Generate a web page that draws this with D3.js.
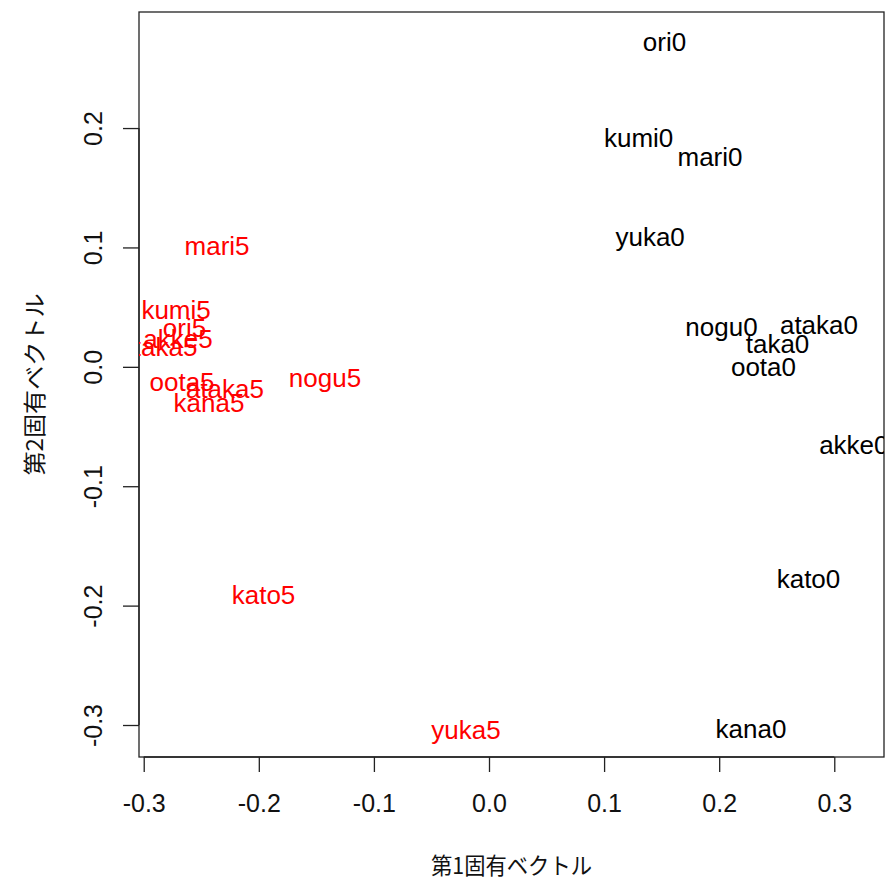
<!DOCTYPE html>
<html>
<head>
<meta charset="utf-8">
<script src="https://cdn.jsdelivr.net/npm/d3@7"></script>
<style>
  html, body { margin: 0; padding: 0; background: #fff; }
  svg { display: block; }
</style>
</head>
<body>
<svg id="chart" width="885" height="881"></svg>
<script>
// Data: first and second eigenvector scores
const labels0 = ["ori0","kumi0","mari0","yuka0","nogu0","ataka0","taka0","oota0","akke0","kato0","kana0"];
const x0 = [0.1525, 0.130, 0.192, 0.140, 0.202, 0.2867, 0.2507, 0.2385, 0.317, 0.2776, 0.2276];
const y0 = [0.272, 0.1916, 0.176, 0.1087, 0.0335, 0.0350, 0.0192, 0.0003, -0.0655, -0.177, -0.3033];

const labels5 = ["mari5","kumi5","ori5","akke5","taka5","oota5","ataka5","kana5","nogu5","kato5","yuka5"];
const x5 = [-0.2363, -0.2719, -0.2646, -0.2702, -0.2810, -0.2667, -0.2294, -0.2433, -0.1425, -0.1959, -0.0200];
const y5 = [0.1012, 0.0476, 0.0325, 0.0233, 0.0166, -0.0127, -0.0186, -0.0303, -0.0094, -0.1907, -0.304];

const xTicks = [-0.3, -0.2, -0.1, 0.0, 0.1, 0.2, 0.3];
const yTicks = [-0.3, -0.2, -0.1, 0.0, 0.1, 0.2];
const xTitle = "第1固有ベクトル";
const yTitle = "第2固有ベクトル";

const svg = d3.select("#chart");
const pLeft = 139, pRight = 884, pTop = 12, pBottom = 757;

const x = d3.scaleLinear().domain([-0.3041, 0.3432]).range([pLeft, pRight]);
const y = d3.scaleLinear().domain([-0.3268, 0.2972]).range([pBottom, pTop]);

const font = "'Liberation Sans', Arial, sans-serif";
const fmt = d => d3.format(".1f")(d).replace("\u2212", "-");

// clip
svg.append("defs").append("clipPath").attr("id", "plotclip")
  .append("rect").attr("x", pLeft).attr("y", pTop).attr("width", pRight - pLeft).attr("height", pBottom - pTop);

// X axis
const xAxis = d3.axisBottom(x).tickValues(xTicks).tickSize(15).tickPadding(0).tickFormat(fmt);
const gx = svg.append("g").attr("transform", `translate(0,${pBottom})`).call(xAxis);
gx.select(".domain").attr("d", `M${x(-0.3)},0H${x(0.3)}`).attr("stroke", "#222").attr("stroke-width", 1.3);
gx.selectAll(".tick line").attr("stroke", "#222").attr("stroke-width", 1.3);
gx.selectAll(".tick text").attr("y", 46).attr("dy", "0.36em")
  .attr("font-family", font).attr("font-size", 25).attr("fill", "#111");

// Y axis
const yAxis = d3.axisLeft(y).tickValues(yTicks).tickSize(16).tickPadding(0).tickFormat(fmt);
const gy = svg.append("g").attr("transform", `translate(${pLeft},0)`).call(yAxis);
gy.select(".domain").attr("d", `M0,${y(-0.3)}V${y(0.2)}`).attr("stroke", "#222").attr("stroke-width", 1.3);
gy.selectAll(".tick line").attr("stroke", "#222").attr("stroke-width", 1.3);
gy.selectAll(".tick text")
  .attr("x", null).attr("y", null)
  .attr("text-anchor", "middle")
  .attr("transform", "translate(-46,0) rotate(-90)")
  .attr("dy", "0.36em")
  .attr("font-family", font).attr("font-size", 25).attr("fill", "#111");

// Box
svg.append("rect").attr("x", pLeft).attr("y", pTop).attr("width", pRight - pLeft).attr("height", pBottom - pTop)
  .attr("fill", "none").attr("stroke", "#222").attr("stroke-width", 1.3);

// Labels
const plot = svg.append("g").attr("clip-path", "url(#plotclip)");
const d0 = labels0.map((l, i) => ({ label: l, x: x0[i], y: y0[i] }));
const d5 = labels5.map((l, i) => ({ label: l, x: x5[i], y: y5[i] }));

plot.selectAll("text.g0").data(d0).join("text").attr("class", "g0")
  .attr("x", d => x(d.x)).attr("y", d => y(d.y)).attr("dy", "0.36em")
  .attr("text-anchor", "middle").attr("font-family", font).attr("font-size", 26)
  .attr("fill", "#000").text(d => d.label);

plot.selectAll("text.g5").data(d5).join("text").attr("class", "g5")
  .attr("x", d => x(d.x)).attr("y", d => y(d.y)).attr("dy", "0.36em")
  .attr("text-anchor", "middle").attr("font-family", font).attr("font-size", 26)
  .attr("fill", "#ff0000").text(d => d.label);

// Axis titles
const cjk = "'Noto Sans CJK JP', 'Noto Sans', sans-serif";
svg.append("text").attr("x", (pLeft + pRight) / 2).attr("y", 866).attr("dy", "0.36em")
  .attr("text-anchor", "middle").attr("font-family", cjk).attr("font-size", 23)
  .attr("textLength", 161).attr("lengthAdjust", "spacingAndGlyphs")
  .attr("fill", "#111").text(xTitle);

svg.append("text").attr("transform", `translate(35,${(pTop + pBottom) / 2}) rotate(-90)`)
  .attr("dy", "0.36em")
  .attr("text-anchor", "middle").attr("font-family", cjk).attr("font-size", 23)
  .attr("textLength", 182).attr("lengthAdjust", "spacingAndGlyphs")
  .attr("fill", "#111").text(yTitle);
</script>
</body>
</html>
